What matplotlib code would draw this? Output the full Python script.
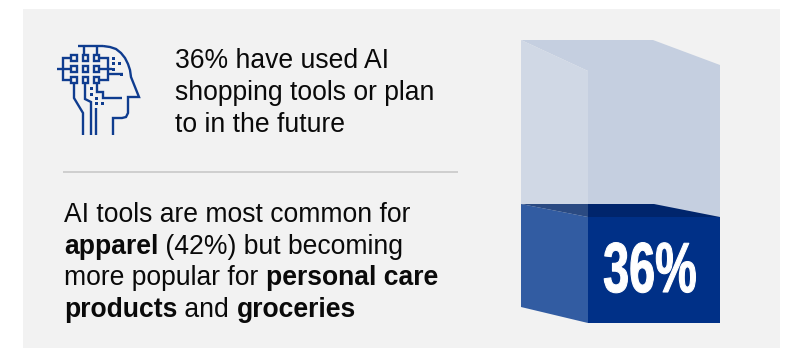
import matplotlib
matplotlib.use("Agg")
import matplotlib.pyplot as plt
from matplotlib.patches import Polygon, Rectangle
from matplotlib.patheffects import AbstractPathEffect
from matplotlib.transforms import Affine2D

FILL_VALUE = 36
LABEL = "36%"
HEADLINE = ["36% have used AI", "shopping tools or plan", "to in the future"]
BODY = [
    [("AI tools are most common for", False)],
    [("apparel", True), (" (42%) but becoming", False)],
    [("more popular for ", False), ("personal care", True)],
    [("products", True), (" and ", False), ("groceries", True)],
]

BLUE = "#003087"
ICON_BLUE = "#0f3c8f"
FONT = "Liberation Sans"
TEXT_PX = 26.5
PX_PER_PERCENT = 106 / 36


class SqueezeX(AbstractPathEffect):
    """Narrow the glyphs horizontally about a fixed pixel column and thicken them."""

    def __init__(self, factor, x_center, stroke=1.0):
        super().__init__()
        self.factor = factor
        self.x_center = x_center
        self.stroke = stroke

    def draw_path(self, renderer, gc, tpath, affine, rgbFace=None):
        squeeze = (Affine2D().translate(-self.x_center, 0)
                   .scale(self.factor, 1).translate(self.x_center, 0))
        gc0 = renderer.new_gc()
        gc0.copy_properties(gc)
        gc0.set_linewidth(self.stroke)
        gc0.set_foreground(rgbFace)
        renderer.draw_path(gc0, tpath, affine + squeeze, rgbFace)
        gc0.restore()


fig = plt.figure(figsize=(8, 3.48), dpi=100, facecolor="white")
ax = fig.add_axes([0, 0, 1, 1])
ax.set_xlim(0, 800)
ax.set_ylim(348, 0)
ax.axis("off")

ax.add_patch(Rectangle((23, 9), 757, 339, fc="#f2f2f2", ec="none"))

# Divider between the two text blocks
ax.plot([63, 458], [172, 172], color="#cfcfcf", lw=1.4, solid_capstyle="butt")

# Headline text
pt = TEXT_PX * 72 / 100
for i, line in enumerate(HEADLINE):
    ax.text(175, 68 + i * 32, line, fontsize=pt, family=FONT, color="#0a0a0a",
            va="baseline", ha="left")

# Body text assembled from regular and bold runs
renderer = fig.canvas.get_renderer()
for i, runs in enumerate(BODY):
    x = 64
    y = 222 + i * 31.7
    for run, bold in runs:
        t = ax.text(x, y, run.replace(" ", "\u00a0"), fontsize=pt, family=FONT,
                    fontweight="bold" if bold else "normal", color="#0a0a0a",
                    va="baseline", ha="left")
        x += t.get_window_extent(renderer).width

# Box: empty upper part
level = 323 - FILL_VALUE * PX_PER_PERCENT
rise = 13
ax.add_patch(Polygon([(521, 40), (653, 40), (720, 65), (720, level),
                      (588, level), (588, 71)], fc="#c5cfe0", ec="none"))
ax.add_patch(Polygon([(521, 40), (588, 71), (588, level), (521, level - rise)],
                     fc="#d0d8e5", ec="none"))

# Box: filled lower part
ax.add_patch(Polygon([(588, level), (720, level), (720, 323), (588, 323)],
                     fc=BLUE, ec="none"))
ax.add_patch(Polygon([(521, level - rise), (588, level), (588, 323), (521, 307)],
                     fc="#325ca2", ec="none"))
ax.add_patch(Polygon([(588, level), (720, level), (654, level - rise), (588, level - rise)],
                     fc="#00256c", ec="none"))
ax.add_patch(Polygon([(521, level - rise), (588, level - rise), (588, level)],
                     fc="#2a4a82", ec="none"))

# Value label on the front face
ax.text(650, 292, LABEL, fontsize=51, family=FONT, fontweight="bold", color="white",
        ha="center", va="baseline", path_effects=[SqueezeX(0.66, 650, stroke=0.8)])

# Head icon, coordinates in pixels
ICON_LINES = [
    [(78, 46), (103, 46)],
    [(84, 46), (84, 55)], [(97, 46), (97, 55)],
    [(57, 69), (71, 69)],
    [(71, 58), (63, 58), (63, 80), (71, 80)],
    [(100, 58), (108, 58), (108, 80), (100, 80)],
    [(100, 69), (112, 69)],
    [(108, 74), (123, 74)],
    [(74, 83), (74, 98), (83, 113), (83, 135)],
    [(85, 83), (85, 99), (91, 102), (91, 135)],
    [(97, 83), (97, 92), (103, 92), (103, 98), (122, 98)],
    [(96, 108), (96, 135)],
    [(103, 46), (110, 47), (116, 49), (121, 53), (125, 58), (128, 64), (130, 70), (131, 77),
     (139, 97), (128, 97), (128, 113), (126, 117), (122, 118), (113, 118), (113, 135)],
]
for pts in ICON_LINES:
    ax.add_line(plt.Line2D(*zip(*pts), color=ICON_BLUE, lw=1.7, solid_joinstyle="miter",
                           solid_capstyle="butt"))
for cx in (74, 85.3, 96.7):
    for cy in (58, 69, 80):
        ax.add_patch(Rectangle((cx - 2.7, cy - 2.7), 5.4, 5.4, fc="none", ec=ICON_BLUE, lw=1.7))
ICON_DOTS = [(113, 58), (119, 63), (113, 63), (113, 69), (121, 74), (91, 88), (91, 94),
             (96, 98), (96, 103), (102, 103)]
for dx, dy in ICON_DOTS:
    ax.add_patch(Rectangle((dx - 1.5, dy - 1.5), 3, 3, fc=ICON_BLUE, ec="none"))

fig.savefig("out.png", dpi=100)
